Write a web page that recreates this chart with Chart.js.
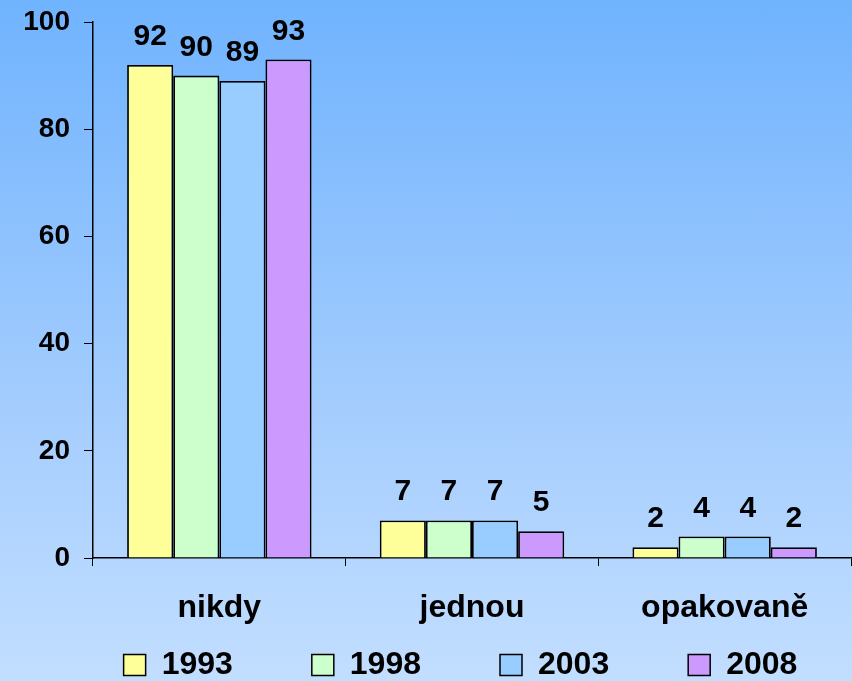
<!DOCTYPE html>
<html>
<head>
<meta charset="utf-8">
<script src="https://cdn.jsdelivr.net/npm/chart.js@4/dist/chart.umd.min.js"></script>
<style>
  html, body { margin: 0; padding: 0; }
  body {
    width: 852px; height: 681px;
    background: linear-gradient(to bottom, #70b3fe 0%, #a4cdfe 60%, #c2deff 100%);
  }
  #wrap { width: 852px; height: 681px; }
</style>
</head>
<body>
<div id="wrap"><canvas id="chart"></canvas></div>
<script>
const categories = ["nikdy", "jednou", "opakovaně"];
const years = ["1993", "1998", "2003", "2008"];
const values1993 = [92, 7, 2];
const values1998 = [90, 7, 4];
const values2003 = [89, 7, 4];
const values2008 = [93, 5, 2];
const yTicks = [0, 20, 40, 60, 80, 100];

const colors = ["#ffff99", "#ccffcc", "#99ccff", "#cc99ff"];
const allValues = [values1993, values1998, values2003, values2008];

const font = "'Liberation Sans', Arial, sans-serif";

// value labels above bars
const valueLabels = {
  id: "valueLabels",
  afterDatasetsDraw(chart) {
    const ctx = chart.ctx;
    ctx.save();
    ctx.font = "bold 30px " + font;
    ctx.fillStyle = "#000";
    ctx.textAlign = "center";
    ctx.textBaseline = "alphabetic";
    chart.data.datasets.forEach((ds, i) => {
      chart.getDatasetMeta(i).data.forEach((bar, j) => {
        ctx.fillText(ds.data[j], bar.x, bar.y - 20);
      });
    });
    ctx.restore();
  }
};

// move the legend row to where it sits in the original
const legendPlace = {
  id: "legendPlace",
  afterLayout(chart) {
    const lg = chart.legend;
    lg.left += 35;
    lg.right += 35;
    lg.top = 570;
  }
};

const datasets = years.map((y, i) => ({
  label: y,
  data: allValues[i],
  backgroundColor: colors[i],
  borderColor: "#000",
  borderWidth: 1.8,
  barPercentage: 1.0,
  categoryPercentage: 0.73
}));

new Chart(document.getElementById("chart"), {
  type: "bar",
  data: { labels: categories, datasets },
  options: {
    responsive: true,
    maintainAspectRatio: false,
    animation: false,
    layout: { padding: { top: 22, right: 1, left: 0, bottom: 0 } },
    plugins: {
      tooltip: { enabled: false },
      legend: {
        position: "bottom",
        maxHeight: 40,
        labels: {
          color: "#000",
          font: { family: font, weight: "bold", size: 32 },
          boxWidth: 22,
          boxHeight: 21,
          padding: 79,
          generateLabels(chart) {
            return chart.data.datasets.map((ds, i) => ({
              text: ds.label,
              fillStyle: ds.backgroundColor,
              strokeStyle: "#000",
              lineWidth: 1.5,
              datasetIndex: i
            }));
          }
        }
      }
    },
    scales: {
      x: {
        grid: {
          display: true,
          drawOnChartArea: false,
          drawTicks: true,
          tickLength: 8,
          color: "#000",
          offset: true
        },
        border: { display: true, color: "#000", width: 1.5 },
        ticks: {
          color: "#000",
          font: { family: font, weight: "bold", size: 32 },
          padding: 23
        },
        afterFit(scale) { scale.height = 83; }
      },
      y: {
        min: 0,
        max: 100,
        afterBuildTicks(scale) { scale.ticks = yTicks.map(v => ({ value: v })); },
        grid: {
          display: true,
          drawOnChartArea: false,
          tickLength: 9,
          color: "#000"
        },
        border: { display: true, color: "#000", width: 1.5 },
        ticks: {
          color: "#000",
          font: { family: font, weight: "bold", size: 28 },
          padding: 14
        },
        afterFit(scale) {
          scale.width = 93;
          scale.paddingTop = 0;
          scale.paddingBottom = 0;
        }
      }
    }
  },
  plugins: [valueLabels, legendPlace]
});
</script>
</body>
</html>
